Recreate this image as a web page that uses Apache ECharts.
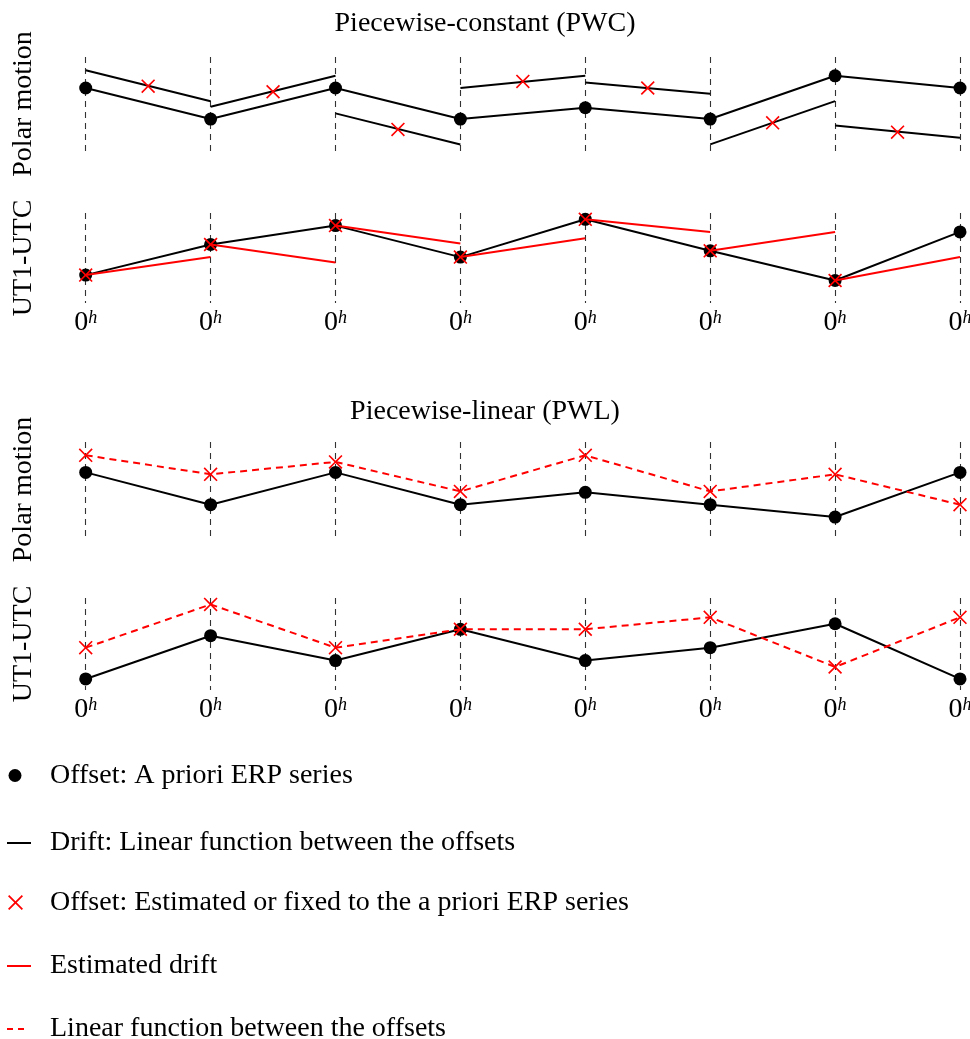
<!DOCTYPE html>
<html><head><meta charset="utf-8">
<script src="https://cdn.jsdelivr.net/npm/echarts@6/dist/echarts.min.js"></script>
<style>html,body{margin:0;padding:0;background:#fff}#chart{width:970px;height:1039px}</style>
</head><body><div id="chart"></div>
<script>
// ---- data (arbitrary height units, 0..100 within each panel) ----
const epochs = [0, 1, 2, 3, 4, 5, 6, 7];          // consecutive days, each at 0h
const tickMain = '0', tickSup = 'h';

// Piecewise-constant, polar motion
const pwcPmApriori   = [67, 34, 67, 34, 46, 34, 80, 67];
const pwcPmSegStart  = [86, 47, 40, 67, 73, 7, 27];
const pwcPmSegEnd    = [53, 80, 7, 80, 61, 53, 14];
const pwcPmOffset    = [69, 63, 23, 74, 67, 30, 20];   // at mid-interval

// Piecewise-constant, UT1-UTC
const pwcUtApriori   = [31, 65, 86, 51, 93, 58, 25, 79];
const pwcUtOffset    = [31, 65, 86, 51, 93, 58, 25];
const pwcUtDriftEnd  = [51, 45, 66, 72, 79, 79, 51];

// Piecewise-linear, polar motion
const pwlPmApriori   = [68, 34, 68, 34, 47, 34, 21, 68];
const pwlPmOffset    = [86, 66, 79, 48, 86, 48, 66, 34];

// Piecewise-linear, UT1-UTC
const pwlUtApriori   = [12, 59, 32, 66, 32, 46, 72, 12];
const pwlUtOffset    = [46, 93, 46, 66, 66, 79, 25, 79];

const titles = ['Piecewise-constant (PWC)', 'Piecewise-linear (PWL)'];
const rowLabels = ['Polar motion', 'UT1-UTC', 'Polar motion', 'UT1-UTC'];

const N_AP = 'Offset: A priori ERP series';
const N_DRIFT = 'Drift: Linear function between the offsets';
const N_EST = 'Offset: Estimated or fixed to the a priori ERP series';
const N_EDRIFT = 'Estimated drift';
const N_LIN = 'Linear function between the offsets';

// ---- styling ----
const F = 'Liberation Serif';
const RED = '#ff0000';
const XPATH = 'path://M0,1L1,0L6,5L11,0L12,1L7,6L12,11L11,12L6,7L1,12L0,11L5,6Z';

const grids = [
  { top: 57, height: 94 },
  { top: 213, height: 90 },
  { top: 442, height: 95 },
  { top: 598, height: 92 }
].map(g => Object.assign({ left: 85.7, width: 874.3, outerBoundsMode: 'none', containLabel: false }, g));

const xAxes = grids.map((g, k) => ({
  gridIndex: k, type: 'value', min: 0, max: 7, interval: 1,
  axisLine: { show: false }, axisTick: { show: false },
  splitLine: { show: true, showMinLine: true, showMaxLine: true,
               lineStyle: { color: '#333', width: 1.1, type: [6, 5] } },
  axisLabel: {
    show: k === 1 || k === 3, margin: 6,
    formatter: () => '{z|' + tickMain + '}{s|' + tickSup + '}',
    rich: {
      z: { fontFamily: F, fontSize: 28, color: '#000' },
      s: { fontFamily: F, fontSize: 18, fontStyle: 'italic', color: '#000', verticalAlign: 'top' }
    }
  }
}));

const yAxes = grids.map((g, k) => ({
  gridIndex: k, type: 'value', min: 0, max: 100,
  axisLine: { show: false }, axisTick: { show: false }, axisLabel: { show: false },
  splitLine: { show: false },
  name: rowLabels[k], nameLocation: 'middle', nameRotate: 90, nameGap: 48,
  nameTextStyle: { fontFamily: F, fontSize: 28, color: '#000' }
}));

const series = [];
function pts(vals, off) { return vals.map((v, i) => [epochs[i] + (off || 0), v]); }
function lineS(g, name, data, color, dash, z) {
  series.push({ type: 'line', name, xAxisIndex: g, yAxisIndex: g, data, symbol: 'none',
    lineStyle: { color, width: 2, type: dash ? [7, 5] : 'solid' }, itemStyle: { color }, z: z || 2, silent: true });
}
function dotS(g, vals) {
  series.push({ type: 'scatter', name: N_AP, xAxisIndex: g, yAxisIndex: g, data: pts(vals),
    symbol: 'circle', symbolSize: 13, itemStyle: { color: '#000', opacity: 1 }, z: 3 });
}
function xS(g, data) {
  series.push({ type: 'scatter', name: N_EST, xAxisIndex: g, yAxisIndex: g, data,
    symbol: XPATH, symbolSize: 14, itemStyle: { color: RED, opacity: 1 }, z: 5 });
}

// Panel 0: PWC polar motion
lineS(0, N_DRIFT, pts(pwcPmApriori), '#000');
dotS(0, pwcPmApriori);
pwcPmSegStart.forEach((s, i) => lineS(0, N_DRIFT, [[epochs[i], s], [epochs[i + 1], pwcPmSegEnd[i]]], '#000'));
xS(0, pts(pwcPmOffset, 0.5));

// Panel 1: PWC UT1-UTC
lineS(1, N_DRIFT, pts(pwcUtApriori), '#000');
dotS(1, pwcUtApriori);
pwcUtOffset.forEach((s, i) => lineS(1, N_EDRIFT, [[epochs[i], s], [epochs[i + 1], pwcUtDriftEnd[i]]], RED, false, 4));
xS(1, pts(pwcUtOffset));

// Panel 2: PWL polar motion
lineS(2, N_DRIFT, pts(pwlPmApriori), '#000');
dotS(2, pwlPmApriori);
lineS(2, N_LIN, pts(pwlPmOffset), RED, true, 4);
xS(2, pts(pwlPmOffset));

// Panel 3: PWL UT1-UTC
lineS(3, N_DRIFT, pts(pwlUtApriori), '#000');
dotS(3, pwlUtApriori);
lineS(3, N_LIN, pts(pwlUtOffset), RED, true, 4);
xS(3, pts(pwlUtOffset));

// ---- legend: one component per row ----
function leg(name, icon, color, left, top, w, h, padTop, padLeft) {
  return {
    data: [{ name, icon, itemStyle: { color, borderWidth: 0, opacity: 1 }, lineStyle: { width: 0 } }],
    left, top, itemWidth: w, itemHeight: h, padding: 0, orient: 'vertical',
    textStyle: { fontFamily: F, fontSize: 28, color: '#000', padding: [padTop, 0, 0, padLeft] }
  };
}
const legends = [
  leg(N_AP, 'circle', '#000', 8.5, 761.5, 13, 13, 0, 23.5),
  leg(N_DRIFT, 'rect', '#000', 7, 829, 24, 2, 10, 14),
  leg(N_EST, XPATH, RED, 8, 888.5, 15, 15, 0, 22),
  leg(N_EDRIFT, 'rect', RED, 7, 952, 24, 2, 4, 14),
  leg(N_LIN, 'path://M0,0h6v2h-6z M11,0h6v2h-6z', RED, 7, 1015, 17, 2, 10, 21)
];

const chart = echarts.init(document.getElementById('chart'), null, { renderer: 'canvas' });
chart.setOption({
  animation: false,
  backgroundColor: '#fff',
  title: [
    { text: titles[0], left: 'center', top: 10, padding: 0,
      textStyle: { fontFamily: F, fontSize: 28, fontWeight: 'normal', color: '#000' } },
    { text: titles[1], left: 'center', top: 398, padding: 0,
      textStyle: { fontFamily: F, fontSize: 28, fontWeight: 'normal', color: '#000' } }
  ],
  legend: legends,
  grid: grids,
  xAxis: xAxes,
  yAxis: yAxes,
  series
});
</script></body></html>
